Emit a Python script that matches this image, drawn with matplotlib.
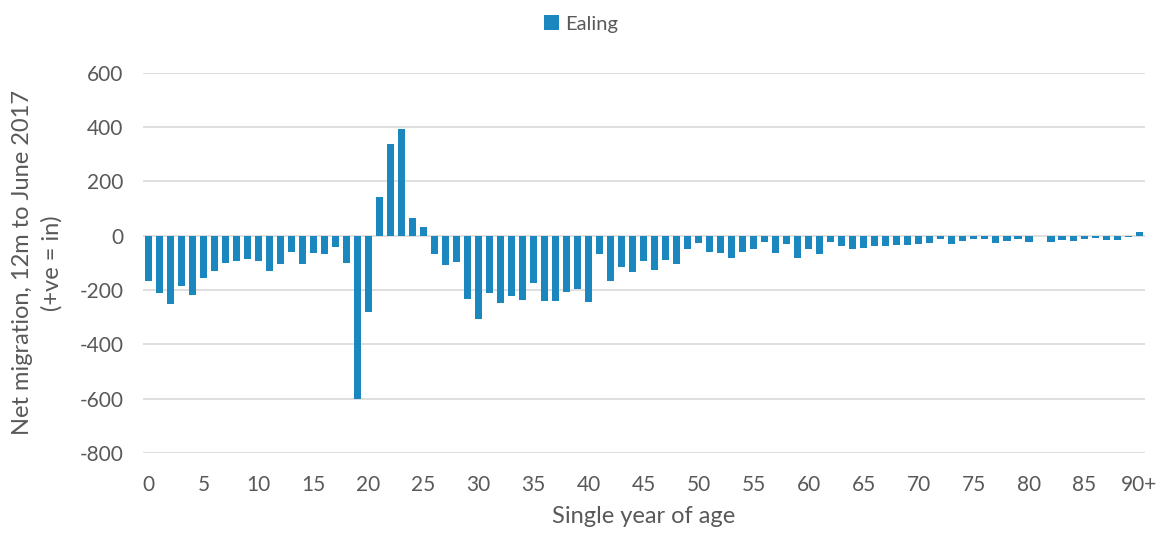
import matplotlib.pyplot as plt

# net migration by single year of age, Ealing
ages = [str(i) for i in range(90)] + ['90+']
ealing = [-167, -210, -250, -185, -217, -155, -130, -102, -92, -87,
          -93, -128, -105, -59, -104, -65, -69, -43, -100, -600,
          -281, 141, 337, 394, 67, 31, -67, -108, -98, -232,
          -305, -211, -247, -223, -236, -173, -242, -242, -207, -196,
          -243, -69, -168, -114, -135, -93, -126, -88, -104, -50,
          -27, -61, -64, -83, -61, -50, -23, -64, -29, -83,
          -49, -67, -23, -38, -47, -44, -36, -38, -33, -34,
          -31, -26, -13, -29, -18, -12, -11, -26, -20, -13,
          -22, 0, -22, -15, -18, -11, -7, -15, -16, -5,
          15]
yticks = [-800, -600, -400, -200, 0, 200, 400, 600]

plt.rcParams['font.family'] = ['Lato', 'DejaVu Sans']

fig = plt.figure(figsize=(11.62, 5.36), dpi=100)
ax = fig.add_axes([0.123, 0.155, 0.862, 0.709])

x = list(range(len(ages)))
ax.bar(x, ealing, width=0.64, color='#1a87bf', label='Ealing', zorder=3)

ax.set_xlim(-0.5, len(ages) - 0.5)
ax.set_ylim(-800, 600)
ax.set_yticks(yticks)
ax.set_yticklabels([str(v) for v in yticks])
ax.set_xticks(x[::5])
ax.set_xticklabels(ages[::5])
ax.tick_params(length=0, labelsize=15, colors='#595959')
ax.tick_params(axis='x', pad=16)
ax.tick_params(axis='y', pad=14)
ax.grid(axis='y', color='#d9d9d9', linewidth=1.2, zorder=0)
for s in ax.spines.values():
    s.set_visible(False)

ax.set_xlabel('Single year of age', fontsize=17, color='#595959', labelpad=8)
ax.set_ylabel('Net migration, 12m to June 2017\n(+ve = in)', fontsize=17,
              color='#595959', labelpad=12, linespacing=1.45)

fig.legend(loc='upper center', bbox_to_anchor=(0.5, 1.005), frameon=False,
           fontsize=14.5, handlelength=0.75, handleheight=0.75, handletextpad=0.3,
           labelcolor='#595959')

fig.savefig('out.png', dpi=100)
